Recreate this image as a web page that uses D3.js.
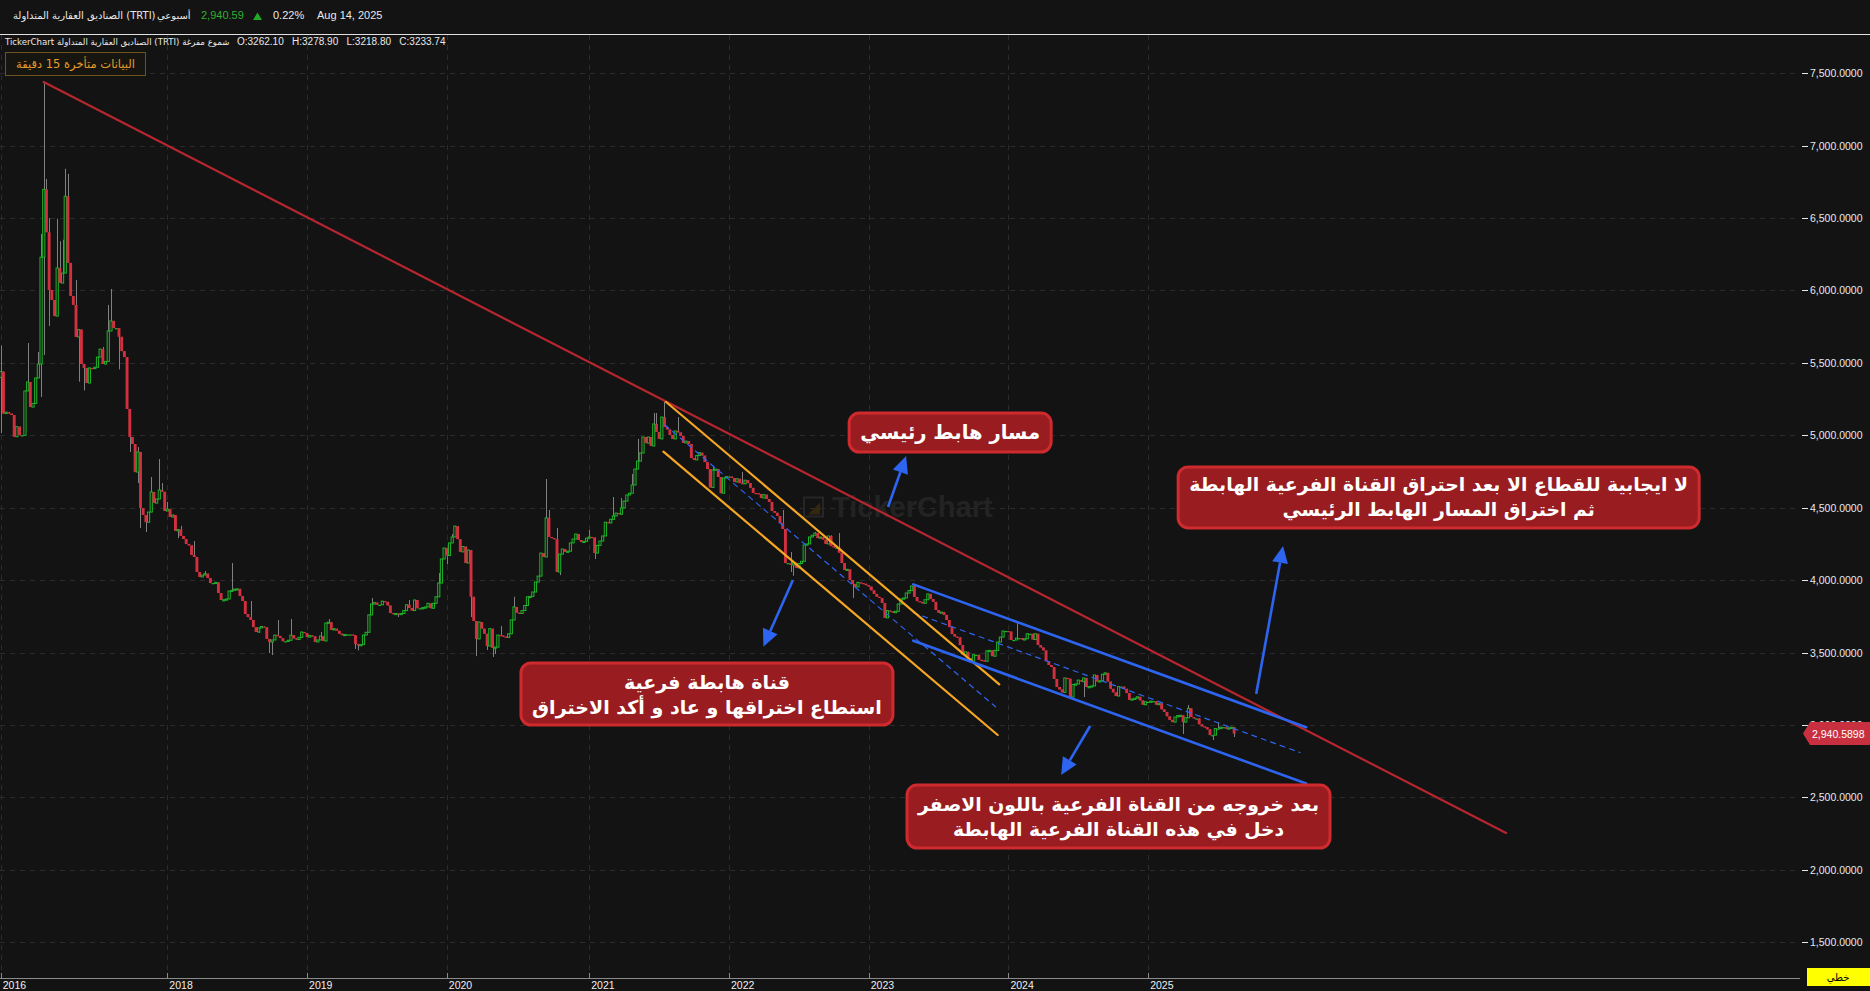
<!DOCTYPE html>
<html><head><meta charset="utf-8">
<script src="https://cdn.jsdelivr.net/npm/d3@7"></script>
<style>
html,body{margin:0;padding:0;background:#131313;overflow:hidden}
svg{display:block}
</style></head><body>
<svg id="chart" width="1870" height="991"></svg>
<script>
// ---------------- DATA ----------------
const lastDate = "2025-08-14";          // date of the last weekly candle
const firstOpen = 5400;                  // open of the first candle
const closes = [
5440,5150,5160,5150,5140,4990,5060,5000,5000,5306,
5368,5195,5220,5396,5492,6230,6698,6402,6003,5934,
5823,6155,6051,6120,6650,6190,5962,5900,5679,5730,
5492,5465,5361,5465,5460,5470,5540,5595,5492,5510,
5720,5790,5740,5740,5680,5581,5540,5182,4988,4940,
4746,4885,4498,
4450,4400,4470,4609,4532,4560,4622,4610,4477,4490,
4436,4450,4340,4350,4305,4284,4250,4240,4174,4160,
4056,4022,4035,4045,4015,3980,3980,3985,3911,3863,
3865,3870,3925,3930,3938,3940,3890,3856,3766,3745,
3725,3676,3642,3670,3680,3675,3594,3573,3587,3621,
3615,3600,3578,3578,3585,3620,3598,3590,3605,3642,
3635,3607,3618,3612,3573,3587,
3614,3580,3704,3710,3656,3665,3650,3630,3620,3625,
3625,3625,3620,3560,3550,3555,3621,3640,3760,3835,
3845,3830,3830,3855,3850,3825,3773,3765,3770,3768,
3770,3790,3830,3808,3790,3863,3806,3806,3810,3815,
3840,3806,3840,3885,3980,4146,4222,4170,4257,4298,
4373,4283,4195,4232,4118,4208,3885,3718,3594,3711,
3665,3630,3545,3665,3532,3538,3621,3618,3610,3605,
3630,3725,3815,3775,3770,3790,3825,3885,3888,3918,
3987,4028,4187,4160,4430,4298,4290,4283,4056,
4180,4215,4195,4200,4257,4284,4318,4277,4263,4268,
4290,4298,4295,4187,4240,4270,4305,4400,4395,4420,
4443,4463,4455,4498,4546,4588,4600,4657,4767,4822,
4878,4988,4946,4988,4926,5078,5023,4975,5126,5057,
5040,5002,4975,5030,5020,
4995,4947,4960,4940,4843,4830,4860,4880,4860,4815,
4767,4640,4760,4767,4712,4600,4705,4715,4715,4705,
4678,4700,4670,4665,4690,4670,4637,4602,4600,4595,
4567,4590,4560,4540,4477,4465,4443,4394,4353,4118,
4118,4105,4120,4085,4115,4130,4243,4250,4298,4310,
4325,4290,4298,4280,4250,4305,4235,4225,4225,4190,
4118,4070,4075,4001,3974,3953,3985,3980,3975,3965,
3955,3930,3905,3885,3877,3842,3739,3790,3785,3775,
3785,3835,3870,3877,3911,3928,3960,3884,
3855,3850,3840,3865,3905,3870,3850,3794,3775,3780,
3760,3725,3676,3628,3610,3605,3552,3483,3505,3460,
3440,3485,3485,3450,3446,3440,3512,3515,3475,3515,
3573,3607,3649,3649,3645,3587,3587,3600,3600,3590,
3595,3630,3630,3590,3630,3552,3535,3515,3441,3414,
3400,3318,3262,3245,3225,3325,3320,3193,3280,3283,
3310,3300,3325,3262,3265,3270,3345,3300,3305,3350,
3360,3300,3250,3225,3200,3265,3265,3250,3220,3173,
3180,3185,3195,3170,3140,3160,3160,3165,3165,3140,
3150,3108,3090,3060,3035,3020,3055,3065,3067,3020,
3050,3115,3055,3045,3045,3005,2990,2985,2970,2930,
2930,2975,2975,2985,2985,2975,2980,2985,2940.59
];
// visible wick extremes: [candle index, price]
const wickHighs = [[0,5620],[10,5637],[14,5575],[15,6390],[16,7439],[17,6770],[18,6500],[21,6495],[22,6340],[23,6350],[24,6840],[25,6805],[28,6072],[38,5610],[40,5900],[41,6010],[51,4919],[56,4712],[59,4836],[60,4670],[62,4540],[67,4375],[72,4270],[76,4063],[86,4118],[93,3856],[103,3725],[108,3732],[119,3642],[122,3732],[138,3877],[152,3863],[163,4049],[168,4318],[186,3683],[191,3885],[203,4698],[204,4484],[207,4360],[219,4346],[228,4574],[231,4567],[235,4733],[237,4975],[243,5154],[244,5154],[247,5240],[252,5126],[265,4781],[276,4747],[291,4484],[294,4194],[303,4332],[309,4310],[312,4325],[378,3704],[442,3138],[453,3020]];
const wickLows = [[0,5015],[15,5265],[16,5554],[18,5755],[29,5370],[31,5310],[44,5455],[48,4885],[51,4670],[52,4360],[54,4332],[66,4290],[96,3635],[100,3497],[101,3483],[132,3525],[133,3515],[148,3745],[166,4110],[175,3745],[177,3476],[181,3518],[183,3470],[184,3490],[208,4035],[221,4146],[294,4056],[295,4030],[317,3877],[403,3193],[440,2938],[451,2896],[459,2917]];
const priceTicks = [1500,2000,2500,3000,3500,4000,4500,5000,5500,6000,6500,7000,7500];
const yearLabels = ["2016","2018","2019","2020","2021","2022","2023","2024","2025"];
const lastPrice = 2940.5898;
// drawn trend lines: [[candle index, price],[candle index, price]]
const mainTrend   = [[15.98,7439],[560.2,2255]];
const yellowUpper = [[247.6,5230],[371.6,3281]];
const yellowLower = [[246.6,4887],[371.0,2931]];
const yellowMid   = [[247.2,5071],[370.2,3126]];
const blueUpper   = [[339.6,3971],[485.8,2985]];
const blueLower   = [[339.6,3582],[485.8,2596]];
const blueMid     = [[339.6,3775],[483.5,2810]];
const arrowsData  = [[[330.2,4505],[336.9,4857]],[[294.8,4001],[283.8,3541]],[[405.4,2993],[394.6,2655]],[[467.2,3214],[477.2,4236]]];
const noteTexts = [
  ["مسار هابط رئيسي"],
  ["لا ايجابية للقطاع الا بعد احتراق القناة الفرعية الهابطة","ثم اختراق المسار الهابط الرئيسي"],
  ["قناة هابطة فرعية","استطاع اختراقها و عاد و أكد الاختراق"],
  ["بعد خروجه من القناة الفرعية باللون الاصفر","دخل في هذه القناة الفرعية الهابطة"]
];
const noteAnchors = [[353.3,5019],[535.1,4571],[262.8,3214],[415.97,2368]];

// ---------------- LAYOUT ----------------
const BG = "#131313";
const plot = {left:0, right:1800, top:35, bottom:978};
const svg = d3.select("#chart");
svg.append("rect").attr("width",1870).attr("height",991).attr("fill",BG);

const N = closes.length;
const parse = d3.timeParse("%Y-%m-%d");
const last = parse(lastDate);
const dates = closes.map((_, i) => d3.timeWeek.offset(last, i - (N - 1)));
const dateAt = idx => new Date(+dates[0] + idx * 7 * 864e5);

const x = d3.scaleTime().domain([new Date(2016,9,25), new Date(2029,7,27)]).range([plot.left, plot.right]);
const y = d3.scaleLinear().domain([1253.4, 7763.5]).range([plot.bottom, plot.top]);
const px = p => [x(dateAt(p[0])), y(p[1])];

const hiMap = new Map(wickHighs), loMap = new Map(wickLows);
const candles = closes.map((c, i) => {
  const o = i === 0 ? firstOpen : closes[i-1];
  const prev = i === 0 ? firstOpen : closes[i-1];
  return {date: dates[i], o, c,
    h: Math.max(o, c, hiMap.has(i) ? hiMap.get(i) : -Infinity),
    l: Math.min(o, c, loMap.has(i) ? loMap.get(i) : Infinity),
    up: c >= prev, hollow: c > o};
});

svg.append("defs").append("clipPath").attr("id","clip")
  .append("rect").attr("x",plot.left).attr("y",plot.top).attr("width",plot.right-plot.left).attr("height",plot.bottom-plot.top);

// grid
const grid = svg.append("g");
grid.selectAll("line.h").data(priceTicks).join("line")
  .attr("x1",plot.left).attr("x2",plot.right)
  .attr("y1",d=>Math.round(y(d))+0.5).attr("y2",d=>Math.round(y(d))+0.5)
  .attr("stroke","#2b2b2b").attr("stroke-dasharray","5,5");
const yearDates = yearLabels.map(l => dates.find(d => d.getFullYear() === +l));
grid.selectAll("line.v").data(yearDates).join("line")
  .attr("x1",d=>Math.round(x(d))+0.5).attr("x2",d=>Math.round(x(d))+0.5)
  .attr("y1",plot.top).attr("y2",plot.bottom)
  .attr("stroke","#2b2b2b").attr("stroke-dasharray","5,5");

// watermark
const wm = svg.append("g").attr("transform",`translate(${(plot.left+plot.right)/2},${(plot.top+plot.bottom)/2})`);
wm.append("rect").attr("x",-96).attr("y",-9).attr("width",19).attr("height",19).attr("fill","none").attr("stroke","#262626").attr("stroke-width",2);
wm.append("path").attr("d","M-92,8 L-80,-4 L-80,8 Z").attr("fill","#33280f");
wm.append("text").attr("x",-68).attr("y",10).attr("font-family","Liberation Sans, Arial, sans-serif")
  .attr("font-weight","bold").attr("font-size",29).attr("fill","#232323").text("TickerChart");

// candles
const cg = svg.append("g").attr("clip-path","url(#clip)");
const GREEN = "#1fb42a", RED = "#d2303f";
cg.selectAll("line.wick").data(candles).join("line")
  .attr("x1",d=>Math.round(x(d.date))+0.5).attr("x2",d=>Math.round(x(d.date))+0.5)
  .attr("y1",d=>y(d.h)).attr("y2",d=>y(d.l))
  .attr("stroke","#808080").attr("stroke-width",1);
cg.selectAll("rect.body").data(candles).join("rect")
  .attr("x",d=>d.hollow ? x(d.date)-1.1 : x(d.date)-1.45)
  .attr("width",d=>d.hollow ? 2.2 : 2.9)
  .attr("y",d=>y(Math.max(d.o,d.c)))
  .attr("height",d=>Math.max(1.2, Math.abs(y(d.o)-y(d.c))))
  .attr("fill",d=>d.hollow ? BG : (d.up ? GREEN : RED))
  .attr("stroke",d=>d.hollow ? (d.up ? GREEN : RED) : "none")
  .attr("stroke-width",1);

// trend lines
const lg = svg.append("g").attr("clip-path","url(#clip)");
function seg(p, color, w, dash){
  const a = px(p[0]), b = px(p[1]);
  const l = lg.append("line").attr("x1",a[0]).attr("y1",a[1]).attr("x2",b[0]).attr("y2",b[1])
    .attr("stroke",color).attr("stroke-width",w).attr("stroke-linecap","round");
  if (dash) l.attr("stroke-dasharray",dash);
}
seg(mainTrend,"#b5262f",2.2);
seg(yellowMid,"#2d64f0",1.2,"5,5");
seg(blueMid,"#2d64f0",1.2,"5,5");
seg(yellowUpper,"#f5a623",2.2);
seg(yellowLower,"#f5a623",2.2);
seg(blueUpper,"#2d64f0",2.6);
seg(blueLower,"#2d64f0",2.6);

// arrows
const ag = svg.append("g");
arrowsData.forEach(p => {
  const a = px(p[0]), b = px(p[1]);
  const ang = Math.atan2(b[1]-a[1], b[0]-a[0]);
  const hl = 17, hw = 8;
  const bx = b[0] - hl*Math.cos(ang), by = b[1] - hl*Math.sin(ang);
  ag.append("line").attr("x1",a[0]).attr("y1",a[1]).attr("x2",bx).attr("y2",by)
    .attr("stroke","#2d64f0").attr("stroke-width",2.6);
  const nx = -Math.sin(ang), ny = Math.cos(ang);
  ag.append("path").attr("d",`M${b[0]},${b[1]} L${bx+nx*hw},${by+ny*hw} L${bx-nx*hw},${by-ny*hw} Z`).attr("fill","#2d64f0");
});

// annotation boxes
const boxSizes = [[202,39],[521,61],[372,62],[423,63]];
const ng = svg.append("g");
noteTexts.forEach((lines, k) => {
  const c = px(noteAnchors[k]);
  const [w,h] = boxSizes[k];
  const g = ng.append("g").attr("transform",`translate(${c[0]},${c[1]})`);
  g.append("rect").attr("x",-w/2).attr("y",-h/2).attr("width",w).attr("height",h).attr("rx",10)
    .attr("fill","#991c20").attr("stroke","#cf2a2e").attr("stroke-width",3);
  const lh = lines.length > 1 ? 25 : 0;
  const texts = lines.map((t,j) => g.append("text")
    .attr("x",0).attr("y",(j - (lines.length-1)/2)*lh)
    .attr("text-anchor","middle").attr("dominant-baseline","central")
    .attr("direction","rtl")
    .attr("font-family","DejaVu Sans, Noto Sans, sans-serif").attr("font-weight","bold")
    .attr("font-size",20).attr("fill","#ffffff").text(t));
  const maxW = d3.max(texts, t => t.node().getComputedTextLength());
  const target = w - 22;
  const fs = Math.min(23, 20 * target / maxW);
  texts.forEach(t => t.attr("font-size", fs));
});

// right axis
const ax = svg.append("g");
ax.selectAll("line.t").data(priceTicks).join("line")
  .attr("x1",1802).attr("x2",1808).attr("y1",d=>Math.round(y(d))+0.5).attr("y2",d=>Math.round(y(d))+0.5)
  .attr("stroke","#e6e9ef");
ax.selectAll("text").data(priceTicks).join("text")
  .attr("x",1810).attr("y",d=>y(d)).attr("dominant-baseline","central")
  .attr("font-family","Liberation Sans, Arial, sans-serif").attr("font-size",10.5).attr("fill","#e6e9ef")
  .text(d3.format(",.4f"));
// last price tag
const ly = y(lastPrice);
ax.append("path").attr("d",`M1803,${ly} L1810,${ly-11.5} L1870,${ly-11.5} L1870,${ly+11.5} L1810,${ly+11.5} Z`).attr("fill","#c8303f");
ax.append("text").attr("x",1812).attr("y",ly).attr("dominant-baseline","central")
  .attr("font-family","Liberation Sans, Arial, sans-serif").attr("font-size",10.5).attr("fill","#ffffff")
  .text(d3.format(",.4f")(lastPrice));

// bottom axis
const bx = svg.append("g");
bx.append("line").attr("x1",0).attr("x2",plot.right).attr("y1",978.5).attr("y2",978.5).attr("stroke","#8a8a8a");
bx.selectAll("line.t").data(yearDates).join("line")
  .attr("x1",d=>Math.round(x(d))+0.5).attr("x2",d=>Math.round(x(d))+0.5).attr("y1",973).attr("y2",979).attr("stroke","#8a8a8a");
bx.selectAll("text").data(yearLabels).join("text")
  .attr("x",(d,i)=>x(yearDates[i])+2).attr("y",985).attr("dominant-baseline","central")
  .attr("font-family","Liberation Sans, Arial, sans-serif").attr("font-size",10.5).attr("fill","#f0f0f0").text(d=>d);
bx.append("rect").attr("x",1807).attr("y",968).attr("width",63).attr("height",18).attr("fill","#ffff00");
bx.append("text").attr("x",1838).attr("y",977).attr("text-anchor","middle").attr("dominant-baseline","central")
  .attr("direction","rtl").attr("font-family","DejaVu Sans, sans-serif").attr("font-size",10).attr("fill","#000").text("خطي");

// header
const hd = svg.append("g").attr("font-family","Liberation Sans, DejaVu Sans, sans-serif").attr("font-size",11);
hd.append("line").attr("x1",0).attr("x2",1870).attr("y1",34.5).attr("y2",34.5).attr("stroke","#e0e0e0");
hd.append("text").attr("x",13).attr("y",15).attr("dominant-baseline","central").attr("fill","#e8e8e8")
  .attr("font-family","DejaVu Sans, sans-serif").attr("font-size",10).text("الصناديق العقارية المتداولة (TRTI)");
hd.append("text").attr("x",157).attr("y",15).attr("dominant-baseline","central").attr("fill","#e8e8e8")
  .attr("font-family","DejaVu Sans, sans-serif").attr("font-size",10).text("أسبوعي");
hd.append("text").attr("x",201).attr("y",15).attr("dominant-baseline","central").attr("fill","#2fb02f")
  .text(d3.format(",.2f")(lastPrice));
hd.append("path").attr("d","M253,20 L262,20 L257.5,12.5 Z").attr("fill","#22a822");
hd.append("text").attr("x",273).attr("y",15).attr("dominant-baseline","central").attr("fill","#e8e8e8").text("0.22%");
hd.append("text").attr("x",317).attr("y",15).attr("dominant-baseline","central").attr("fill","#e8e8e8").text("Aug 14, 2025");
hd.append("text").attr("x",5).attr("y",41.5).attr("dominant-baseline","central").attr("fill","#e8e8e8")
  .attr("font-family","DejaVu Sans, sans-serif").attr("font-size",8.6)
  .text("TickerChart الصناديق العقارية المتداولة (TRTI) شموع مفرغة");
hd.append("text").attr("x",237).attr("y",41.5).attr("dominant-baseline","central").attr("fill","#e8e8e8").attr("font-size",10)
  .attr("xml:space","preserve").text("O:3262.10   H:3278.90   L:3218.80   C:3233.74");
hd.append("rect").attr("x",5.5).attr("y",52.5).attr("width",140).attr("height",23).attr("fill","#17150f").attr("stroke","#6e5220");
hd.append("text").attr("x",75.5).attr("y",64).attr("text-anchor","middle").attr("dominant-baseline","central")
  .attr("direction","rtl").attr("font-family","DejaVu Sans, sans-serif").attr("font-size",11.5).attr("fill","#e39b2c")
  .text("البيانات متأخرة 15 دقيقة");
</script>
</body></html>
